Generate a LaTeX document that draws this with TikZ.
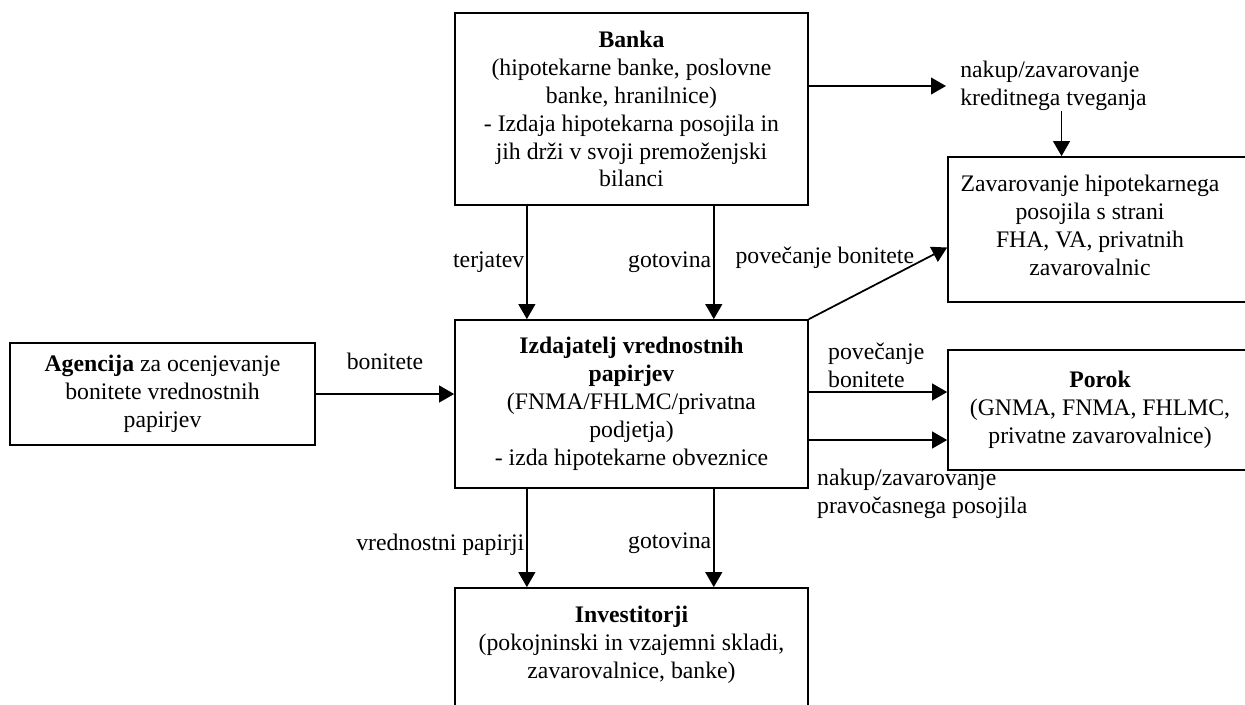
\documentclass[tikz,border=0pt]{standalone}
\usepackage{fontspec}
\setmainfont{Liberation Serif}
\usetikzlibrary{arrows.meta,calc}
\begin{document}
\begin{tikzpicture}[x=0.02cm,y=-0.02cm,
    font=\fontsize{13.5}{15.9}\selectfont,
    box/.style={draw,line width=1pt,align=center,inner sep=0pt},
    lbl/.style={align=left,inner sep=0pt},
    arr/.style={line width=1pt,-{Triangle[length=8.5pt,width=9.5pt]}}]
  \fill[white] (0,0) rectangle (1245,704);
  \useasboundingbox (0,0) rectangle (1245,704);
  \draw
    (631.5,109) node[box,minimum width=7.06cm,minimum height=3.84cm] (banka){\textbf{Banka}\\(hipotekarne banke, poslovne\\banke, hranilnice)\\- Izdaja hipotekarna posojila in\\jih drži v svoji premoženjski\\bilanci}
    (631.5,404) node[box,minimum width=7.06cm,minimum height=3.36cm] (izdaj){\textbf{Izdajatelj vrednostnih}\\\textbf{papirjev}\\(FNMA/FHLMC/privatna\\podjetja)\\- izda hipotekarne obveznice}
    (631.5,670) node[box,minimum width=7.06cm,minimum height=3.28cm] (invest){\textbf{Investitorji}\\(pokojninski in vzajemni skladi,\\zavarovalnice, banke)\\\mbox{}\\\mbox{}}
    (162.5,394) node[box,minimum width=6.1cm,minimum height=2.04cm] (agen){\textbf{Agencija} za ocenjevanje\\bonitete vrednostnih\\papirjev}
    (1124,229.5) node[box,minimum width=7.04cm,minimum height=2.9cm] (zavar){}
    (1090,225) node[align=center,inner sep=0pt] (zavartxt){Zavarovanje hipotekarnega\\posojila s strani\\FHA, VA, privatnih\\zavarovalnic}
    (1100,410) node[box,minimum width=6.08cm,minimum height=2.4cm] (porok){\textbf{Porok}\\(GNMA, FNMA, FHLMC,\\privatne zavarovalnice)}
    (960,86) node[lbl,anchor=west] (nakup){nakup/zavarovanje\\kreditnega tveganja};
  \begin{scope}[arr]
    \draw ($(banka.south west)!.205!(banka.south east)$) -- ($(izdaj.north west)!.205!(izdaj.north east)$)
      node[midway,left,inner sep=1pt] (terj){terjatev};
    \draw ($(banka.south west)!.732!(banka.south east)$) -- ($(izdaj.north west)!.732!(izdaj.north east)$)
      node[midway,left,inner sep=1pt] (got1){gotovina};
    \draw ($(izdaj.south west)!.205!(izdaj.south east)$) -- ($(invest.north west)!.205!(invest.north east)$)
      node[midway,left,inner sep=1pt,yshift=-4] (vred){vrednostni papirji};
    \draw ($(izdaj.south west)!.732!(izdaj.south east)$) -- ($(invest.north west)!.732!(invest.north east)$)
      node[midway,left,inner sep=1pt,yshift=-3] (got2){gotovina};
    \draw (agen.east) -- (agen.east -| izdaj.west)
      node[midway,above=10pt] (bon){bonitete};
    \draw (banka.east |- nakup.west) -- ($(nakup.west)+(-14,0)$);
    \draw ($(nakup.south)+(8,0)$) coordinate (n1) -- (n1 |- zavar.north);
    \draw (izdaj.north east) -- ($(zavar.west)+(0,18)$);
    \draw ($(izdaj.east)+(0,-12)$) coordinate (p1) -- (p1 -| porok.west);
    \draw ($(izdaj.east)+(0,36)$) coordinate (p2) -- (p2 -| porok.west);
  \end{scope}
  \node[lbl] (pov1) at ($(izdaj.north east)+(16,-61)$) {povečanje bonitete};
  \node[lbl,anchor=south west] (pov2) at ($(p1)+(19,-4)$) {povečanje\\bonitete};
  \node[lbl,anchor=west] (prav) at ($(izdaj.south east)+(8,5)$) {nakup/zavarovanje\\pravočasnega posojila};
\end{tikzpicture}
\end{document}
